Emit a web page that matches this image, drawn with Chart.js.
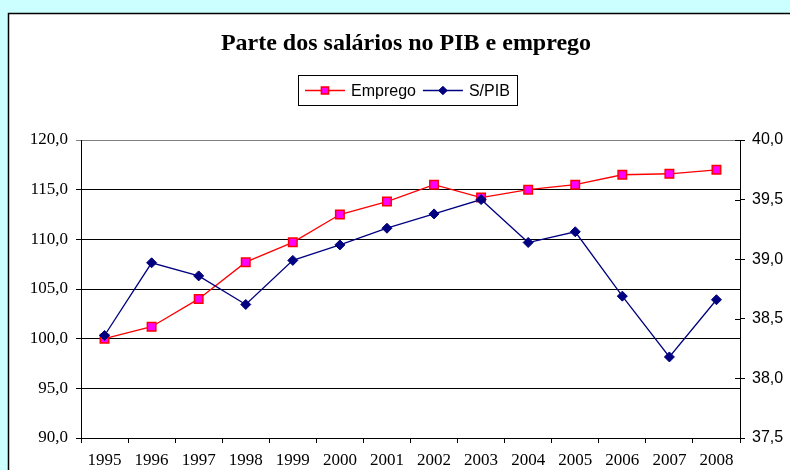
<!DOCTYPE html>
<html>
<head>
<meta charset="utf-8">
<script src="https://cdn.jsdelivr.net/npm/chart.js@4/dist/chart.umd.min.js"></script>
<style>
  html, body { margin: 0; padding: 0; background: #CCFFFF; }
  canvas { display: block; }
</style>
</head>
<body>
<canvas id="c" width="790" height="470"></canvas>
<script>
const years = ['1995','1996','1997','1998','1999','2000','2001','2002','2003','2004','2005','2006','2007','2008'];
const emprego = [100.0, 101.2, 104.0, 107.7, 109.7, 112.5, 113.8, 115.5, 114.2, 115.0, 115.5, 116.5, 116.6, 117.0];
const sPib = [38.36, 38.97, 38.86, 38.62, 38.99, 39.12, 39.26, 39.38, 39.50, 39.14, 39.23, 38.69, 38.18, 38.66];
const leftTicks = { min: 90, max: 120, step: 5 };
const rightTicks = { min: 37.5, max: 40, step: 0.5 };
const titleText = 'Parte dos salários no PIB e emprego';

const SERIF = "'Liberation Serif', 'Times New Roman', serif";
const SANS = "'Liberation Sans', Arial, sans-serif";
const fmt = v => Number(v).toFixed(1).replace('.', ',');

const decor = {
  id: 'decor',
  beforeDraw(chart) {
    const ctx = chart.ctx;
    ctx.save();
    ctx.fillStyle = '#CCFFFF';
    ctx.fillRect(0, 0, chart.width, chart.height);
    ctx.fillStyle = '#FFFFFF';
    ctx.fillRect(8, 13, chart.width, chart.height);
    ctx.strokeStyle = '#000000';
    ctx.lineWidth = 1.5;
    ctx.beginPath();
    ctx.moveTo(8.5, chart.height + 2);
    ctx.lineTo(8.5, 13.5);
    ctx.lineTo(chart.width + 2, 13.5);
    ctx.stroke();
    ctx.restore();
  },
  afterDraw(chart) {
    const ctx = chart.ctx;
    ctx.save();
    // title
    ctx.fillStyle = '#000';
    ctx.font = 'bold 24px ' + SERIF;
    ctx.textAlign = 'center';
    ctx.textBaseline = 'alphabetic';
    ctx.fillText(titleText, 406, 50);
    // inner part of right axis ticks
    const r = chart.scales.y1;
    ctx.strokeStyle = '#000';
    ctx.lineWidth = 1;
    r.ticks.forEach(t => {
      const py = Math.round(r.getPixelForValue(t.value)) + 0.5;
      ctx.beginPath();
      ctx.moveTo(r.left - 5, py);
      ctx.lineTo(r.left, py);
      ctx.stroke();
    });
    // legend
    const bx = 298.5, by = 75.5, bw = 219, bh = 30;
    ctx.fillStyle = '#fff';
    ctx.fillRect(bx, by, bw, bh);
    ctx.strokeStyle = '#000';
    ctx.lineWidth = 1;
    ctx.strokeRect(bx, by, bw, bh);
    ctx.font = '16px ' + SANS;
    ctx.textAlign = 'left';
    ctx.textBaseline = 'middle';
    const cy = by + bh / 2;
    let x = bx + 6.5;
    chart.data.datasets.forEach(ds => {
      ctx.strokeStyle = ds.borderColor;
      ctx.lineWidth = 1.3;
      ctx.beginPath();
      ctx.moveTo(x, cy);
      ctx.lineTo(x + 40, cy);
      ctx.stroke();
      Chart.helpers.drawPoint(ctx, {
        pointStyle: ds.pointStyle,
        rotation: 0,
        borderWidth: ds.pointBorderWidth
      }, x + 20, cy);
      ctx.fillStyle = ds.pointBackgroundColor;
      ctx.strokeStyle = ds.pointBorderColor;
      ctx.lineWidth = ds.pointBorderWidth;
      Chart.helpers.drawPoint(ctx, {
        pointStyle: ds.pointStyle,
        radius: ds.pointRadius * 0.85,
        rotation: 0,
        borderWidth: ds.pointBorderWidth
      }, x + 20, cy);
      ctx.fillStyle = '#000';
      ctx.fillText(ds.label, x + 46, cy + 1);
      x += 46 + ctx.measureText(ds.label).width + 7;
    });
    ctx.restore();
  }
};

new Chart(document.getElementById('c'), {
  type: 'line',
  data: {
    labels: years,
    datasets: [
      {
        label: 'Emprego',
        data: emprego,
        yAxisID: 'y',
        borderColor: '#FF0000',
        borderWidth: 1.3,
        pointStyle: 'rect',
        pointRadius: 6,
        pointBackgroundColor: '#FF00FF',
        pointBorderColor: '#FF0000',
        pointBorderWidth: 1.5,
        tension: 0,
        order: 2
      },
      {
        label: 'S/PIB',
        data: sPib,
        yAxisID: 'y1',
        borderColor: '#000080',
        borderWidth: 1.3,
        pointStyle: 'rectRot',
        pointRadius: 5,
        pointBackgroundColor: '#000080',
        pointBorderColor: '#000080',
        pointBorderWidth: 1,
        tension: 0,
        order: 1
      }
    ]
  },
  options: {
    responsive: false,
    animation: false,
    devicePixelRatio: 1,
    layout: { padding: { top: 140, left: 0, right: 0, bottom: 0 } },
    plugins: {
      legend: { display: false },
      title: { display: false },
      tooltip: { enabled: false }
    },
    scales: {
      x: {
        type: 'category',
        offset: true,
        afterFit: s => { s.height = 32; },
        grid: { display: true, offset: true, drawOnChartArea: false, drawTicks: true, tickLength: 5, color: '#000' },
        border: { display: true, color: '#000', width: 1 },
        ticks: { color: '#000', font: { family: SERIF, size: 17 }, padding: 7, maxRotation: 0, autoSkip: false }
      },
      y: {
        position: 'left',
        min: leftTicks.min,
        max: leftTicks.max,
        afterFit: s => { s.width = 81; },
        grid: {
          drawOnChartArea: true, drawTicks: true, tickLength: 5,
          color: ctx => (ctx.tick && ctx.tick.value === leftTicks.max) ? '#808080' : '#000'
        },
        border: { display: true, color: '#000', width: 1 },
        ticks: { stepSize: leftTicks.step, color: '#000', font: { family: SERIF, size: 17 }, padding: 8, callback: fmt }
      },
      y1: {
        position: 'right',
        min: rightTicks.min,
        max: rightTicks.max,
        afterFit: s => { s.width = 50; },
        grid: { drawOnChartArea: false, drawTicks: true, tickLength: 5, color: '#000' },
        border: { display: true, color: '#000', width: 1 },
        ticks: { stepSize: rightTicks.step, color: '#000', font: { family: SANS, size: 16 }, padding: 7, callback: fmt }
      }
    }
  },
  plugins: [decor]
});
</script>
</body>
</html>
